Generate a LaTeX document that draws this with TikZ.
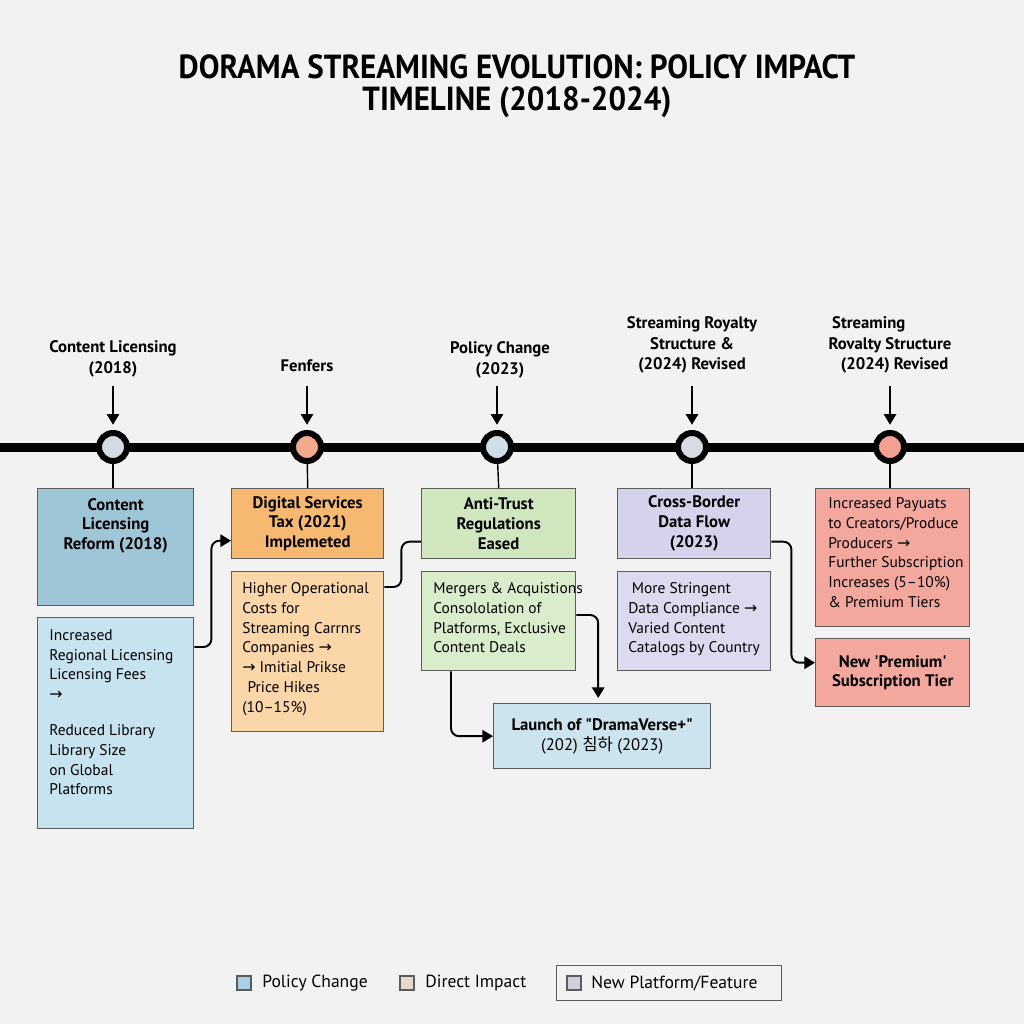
\documentclass[tikz,border=0pt]{standalone}
\usepackage{fontspec}
\setmainfont{PT Sans}
\newfontfamily\titlefont[FakeStretch=0.93]{PT Sans}
\newfontfamily\krfont{Noto Sans CJK KR}
\newfontfamily\arrowfont{DejaVu Sans}
\newcommand{\ra}{{\arrowfont\small →}}
\usetikzlibrary{positioning,arrows.meta}
\newdimen\pxu \pxu=0.02cm

\definecolor{bgcol}{HTML}{F2F2F2}
\definecolor{boxline}{HTML}{5C5C5C}
\definecolor{polfill}{HTML}{9FC6D7}
\definecolor{polfilllt}{HTML}{C7E3F0}
\definecolor{dstfill}{HTML}{F7B872}
\definecolor{dstfilllt}{HTML}{FAD6A8}
\definecolor{atfill}{HTML}{CFE6BE}
\definecolor{atfilllt}{HTML}{D9ECCB}
\definecolor{cbfill}{HTML}{D5D2EC}
\definecolor{cbfilllt}{HTML}{DCDAEF}
\definecolor{royfill}{HTML}{F4A89D}
\definecolor{launchfill}{HTML}{CDE4EE}
\definecolor{dotA}{HTML}{D3DCE2}
\definecolor{dotB}{HTML}{F3A98E}
\definecolor{dotC}{HTML}{CFDFE7}
\definecolor{dotD}{HTML}{D6DCE3}
\definecolor{dotE}{HTML}{F2A091}
\definecolor{legpol}{HTML}{A9CFE1}
\definecolor{legimp}{HTML}{E8DAC8}
\definecolor{legnew}{HTML}{D0CFD8}

\begin{document}
\begin{tikzpicture}[x=0.02cm,y=-0.02cm,
  box/.style={draw=boxline, line width=0.8pt, rectangle, anchor=north west, inner sep=0pt},
  headtxt/.style={font=\bfseries\fontsize{9.5}{11.3}\selectfont, align=center, inner sep=1pt},
  bodytxt/.style={font=\fontsize{8.8}{11.3}\selectfont, align=left, inner sep=0pt, anchor=north west},
  eventlbl/.style={font=\bfseries\fontsize{9.5}{11.6}\selectfont, align=center, inner sep=1pt},
  event/.style={circle, draw=black, line width=6\pxu, minimum size=28\pxu, inner sep=0pt},
  pointer/.style={-{Triangle[width=7pt,length=6pt]}, line width=0.8pt, shorten >=3pt},
  stem/.style={line width=0.8pt},
  conn/.style={line width=1.1pt, rounded corners=8\pxu},
  legsq/.style={draw=boxline, line width=0.6pt, minimum size=14\pxu, inner sep=0pt},
  legtxt/.style={font=\fontsize{10}{12}\selectfont, anchor=west, inner sep=0pt}]

% background
\useasboundingbox[fill=bgcol] (0,0) rectangle (1024,1024);

% title
\node[font=\titlefont\bfseries\fontsize{19}{18.3}\selectfont, align=center] (title) at (517,86)
  {DORAMA STREAMING EVOLUTION: POLICY IMPACT\\TIMELINE (2018-2024)};

% timeline
\coordinate (tlw) at (0,447);
\coordinate (tle) at (1024,447);
\draw[line width=9\pxu] (tlw) -- (tle);

% labels above the line
\node[eventlbl] (lab1) at (113,359) {Content Licensing\\(2018)};
\node[eventlbl] (lab2) at (307,366) {Fenfers};
\node[eventlbl] (lab3) at (500,360) {Policy Change\\(2023)};
\node[eventlbl] (lab4) at (692,345) {Streaming Royalty\\Structure \&\\(2024) Revised};
\node[eventlbl, align=left] (lab5) at (890,345)
  {\hspace*{2pt}Streaming\\Rovalty Structure\\\hspace*{7pt}(2024) Revised};

\coordinate (a1) at (113,386);
\coordinate (a2) at (307,386);
\coordinate (a3) at (497,386);
\coordinate (a4) at (692,386);
\coordinate (a5) at (890,386);

% boxes
\node[box, fill=polfill, minimum width=156\pxu, minimum height=117\pxu] (clr) at (37,488) {};
\node[headtxt, anchor=north] (clrT) at ([yshift=-8\pxu]clr.north) {Content\\Licensing\\Reform (2018)};
\node[box, fill=polfilllt, minimum width=156\pxu, minimum height=211\pxu] (clrI) at (37,617) {};
\node[bodytxt] (clrIT) at ([xshift=12\pxu,yshift=-12\pxu]clrI.north west)
  {Increased\\Regional Licensing\\Licensing Fees\\\ra\\[9pt]Reduced Library\\Library Size\\on Global\\Platforms};

\node[box, fill=dstfill, minimum width=152\pxu, minimum height=70\pxu, headtxt, anchor=north west] (dst) at (231,488)
  {Digital Services\\Tax (2021)\\Implemeted};
\node[box, fill=dstfilllt, minimum width=152\pxu, minimum height=160\pxu] (dstI) at (231,571) {};
\node[bodytxt] (dstIT) at ([xshift=11\pxu,yshift=-11\pxu]dstI.north west)
  {Higher Operational\\Costs for\\Streaming Carrnrs\\Companies \ra\\\ra{} Imitial Prikse\\\hspace*{3pt}Price Hikes\\(10--15\%)};

\node[box, fill=atfill, minimum width=154\pxu, minimum height=70\pxu, headtxt, anchor=north west] (at) at (421,488)
  {Anti-Trust\\Regulations\\Eased};
\node[box, fill=atfilllt, minimum width=154\pxu, minimum height=99\pxu] (atI) at (421,571) {};
\node[bodytxt] (atIT) at ([xshift=12\pxu,yshift=-11\pxu]atI.north west)
  {Mergers \& Acquistions\\Consololation of\\Platforms, Exclusive\\Content Deals};

\node[box, fill=launchfill, minimum width=217\pxu, minimum height=65\pxu, headtxt, anchor=north west] (launch) at (493,703)
  {Launch of \textquotedbl DramaVerse+\textquotedbl\\\mdseries(202) {\krfont 침하} (2023)};

\node[box, fill=cbfill, minimum width=153\pxu, minimum height=70\pxu, headtxt, anchor=north west] (cb) at (617,488)
  {Cross-Border\\Data Flow\\(2023)};
\node[box, fill=cbfilllt, minimum width=153\pxu, minimum height=99\pxu] (cbI) at (617,571) {};
\node[bodytxt] (cbIT) at ([xshift=11\pxu,yshift=-11\pxu]cbI.north west)
  {\hspace*{2pt}More Stringent\\Data Compliance \ra\\Varied Content\\Catalogs by Country};

\node[box, fill=royfill, minimum width=154\pxu, minimum height=138\pxu] (roy) at (815,488) {};
\node[bodytxt] (royT) at ([xshift=13\pxu,yshift=-9\pxu]roy.north west)
  {Increased Payuats\\to Creators/Produce\\Producers \ra\\Further Subscription\\Increases (5--10\%)\\\& Premium Tiers};
\node[box, fill=royfill, minimum width=154\pxu, minimum height=68\pxu, headtxt, anchor=north west] (prem) at (815,638)
  {New \textquotesingle Premium\textquotesingle\\Subscription Tier};

% stems from the line to the boxes
\draw[stem] (113,447) -- (clr.north -| 113,0);
\draw[stem] (307,447) -- (dst.north);
\draw[stem] (497,447) -- (at.north);
\draw[stem] (692,447) -- (cb.north -| 692,0);
\draw[stem] (890,447) -- (roy.north -| 890,0);

% event dots
\node[event, fill=dotA] (ev1) at (113,447) {};
\node[event, fill=dotB] (ev2) at (307,447) {};
\node[event, fill=dotC] (ev3) at (497,447) {};
\node[event, fill=dotD] (ev4) at (692,447) {};
\node[event, fill=dotE] (ev5) at (890,447) {};

\draw[pointer] (a1) -- (ev1.north);
\draw[pointer] (a2) -- (ev2.north);
\draw[pointer] (a3) -- (ev3.north);
\draw[pointer] (a4) -- (ev4.north);
\draw[pointer] (a5) -- (ev5.north);

% connectors between boxes
\draw[conn, -{Triangle[width=7pt,length=6pt]}] ([yshift=-30\pxu]clrI.north east) -- ++(17,0) |- ([yshift=-17\pxu]dst.west);
\draw[conn] ([yshift=-16\pxu]dstI.north east) -- ++(17,0) |- ([yshift=-18\pxu]at.west);
\draw[conn, -{Triangle[width=7pt,length=6pt]}] ([yshift=-44\pxu]atI.north east) -| ([xshift=-4\pxu,yshift=5\pxu]launch.north);
\draw[conn, -{Triangle[width=7pt,length=6pt]}] ([xshift=30\pxu]atI.south west) |- (launch.west);
\draw[conn, -{Triangle[width=7pt,length=6pt]}] ([yshift=-18\pxu]cb.east) -- ++(20,0) |- ([yshift=10\pxu]prem.west);

% legend
\node[legsq, fill=legpol] (leg1) at (244,983) {};
\node[legtxt] (leg1t) at (262,983) {Policy Change};
\node[legsq, fill=legimp] (leg2) at (407,983) {};
\node[legtxt] (leg2t) at (425,983) {Direct Impact};
\node[draw=boxline, line width=0.8pt, minimum width=225\pxu, minimum height=35\pxu] (legbox) at (669,983) {};
\node[legsq, fill=legnew] (leg3) at (574,983) {};
\node[legtxt] (leg3t) at (591,983) {New Platform/Feature};
\end{tikzpicture}
\end{document}
